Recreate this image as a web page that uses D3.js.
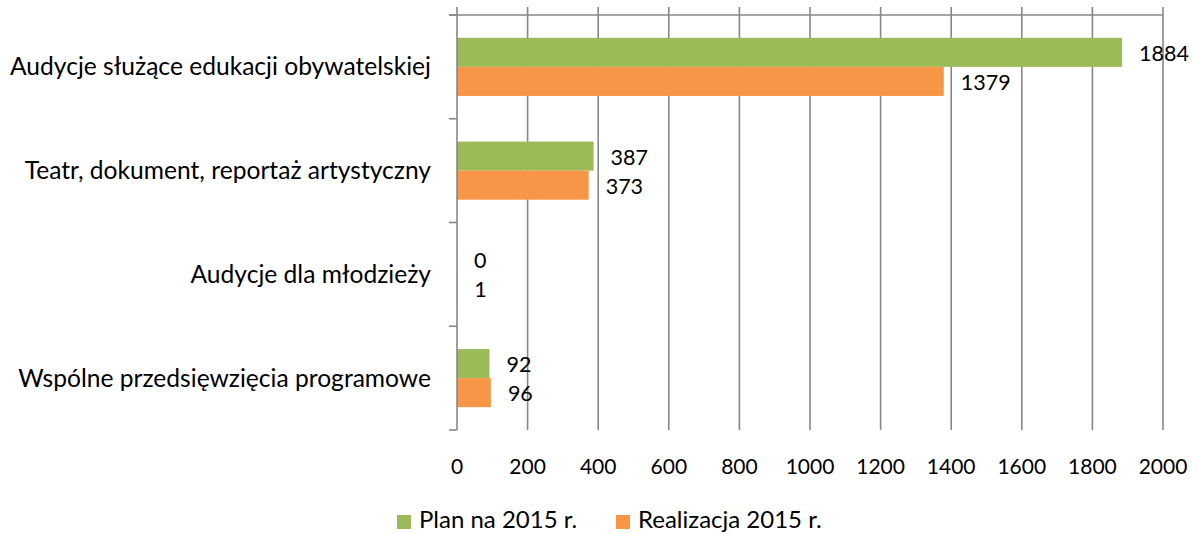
<!DOCTYPE html>
<html><head><meta charset="utf-8">
<script src="https://cdn.jsdelivr.net/npm/d3@7"></script>
<style>html,body{margin:0;padding:0;background:#fff;} svg{display:block;font-family:Lato, "Open Sans", sans-serif;}</style>
</head><body>
<svg id="chart" width="1199" height="533"></svg>
<script>
const categories = ["Audycje służące edukacji obywatelskiej", "Teatr, dokument, reportaż artystyczny", "Audycje dla młodzieży", "Wspólne przedsięwzięcia programowe"];
const planValues = [1884, 387, 0, 92];
const realValues = [1379, 373, 1, 96];
const seriesNames = ["Plan na 2015 r.", "Realizacja 2015 r."];
const xTicks = [0, 200, 400, 600, 800, 1000, 1200, 1400, 1600, 1800, 2000];

const colors = ["#9BBB59", "#F79646"];
const gridColor = "#878787";
const svg = d3.select("#chart");

const x = d3.scaleLinear().domain([0, 2000]).range([457, 1163]);
const y = d3.scaleBand().domain(categories).range([15, 430]).paddingInner(0.44).paddingOuter(0.22);
const ySub = d3.scaleBand().domain([0, 1]).range([0, y.bandwidth()]);

// gridlines
svg.append("g").selectAll("line").data(xTicks.filter(d => d > 0)).join("line")
  .attr("x1", d => x(d)).attr("x2", d => x(d)).attr("y1", 7).attr("y2", 430)
  .attr("stroke", gridColor).attr("stroke-width", 1.6);
// top line
svg.append("line").attr("x1", 449).attr("x2", x(2000)).attr("y1", 15).attr("y2", 15)
  .attr("stroke", gridColor).attr("stroke-width", 1.6);

const data = [];
categories.forEach((c, i) => {
  data.push({c, s: 0, v: planValues[i]});
  data.push({c, s: 1, v: realValues[i]});
});

svg.append("g").selectAll("rect").data(data).join("rect")
  .attr("x", x(0)).attr("y", d => y(d.c) + ySub(d.s))
  .attr("width", d => x(d.v) - x(0)).attr("height", ySub.bandwidth())
  .attr("fill", d => colors[d.s]);

// left axis
const bounds = d3.range(categories.length + 1).map(i => 15 + i * (415 / categories.length));
svg.append("line").attr("x1", 457).attr("x2", 457).attr("y1", 7).attr("y2", 430)
  .attr("stroke", gridColor).attr("stroke-width", 1.6);
svg.append("g").selectAll("line").data(bounds).join("line")
  .attr("x1", 449).attr("x2", 457).attr("y1", d => d).attr("y2", d => d)
  .attr("stroke", gridColor).attr("stroke-width", 1.6);

// category labels
svg.append("g").selectAll("text").data(categories).join("text")
  .attr("x", 431).attr("y", d => y(d) + y.bandwidth() / 2)
  .attr("dy", "0.35em").attr("text-anchor", "end")
  .attr("font-size", 24.6).attr("fill", "#000").text(d => d);

// x tick labels
svg.append("g").selectAll("text").data(xTicks).join("text")
  .attr("x", d => x(d)).attr("y", 474).attr("text-anchor", "middle")
  .attr("font-size", 21).attr("fill", "#000").text(d => d);

// value labels
svg.append("g").selectAll("text").data(data).join("text")
  .attr("x", d => x(d.v) + 17).attr("y", d => y(d.c) + ySub(d.s) + ySub.bandwidth() / 2 + 1)
  .attr("dy", "0.35em").attr("font-size", 21.5).attr("fill", "#000").text(d => d.v);

// legend
const legendItems = [{x: 397, tx: 419}, {x: 616, tx: 638}];
const lg = svg.append("g");
seriesNames.forEach((n, i) => {
  lg.append("rect").attr("x", legendItems[i].x).attr("y", 515).attr("width", 14).attr("height", 14).attr("fill", colors[i]);
  lg.append("text").attr("x", legendItems[i].tx).attr("y", 528).attr("font-size", 24).attr("fill", "#000").text(n);
});
</script>
</body></html>
